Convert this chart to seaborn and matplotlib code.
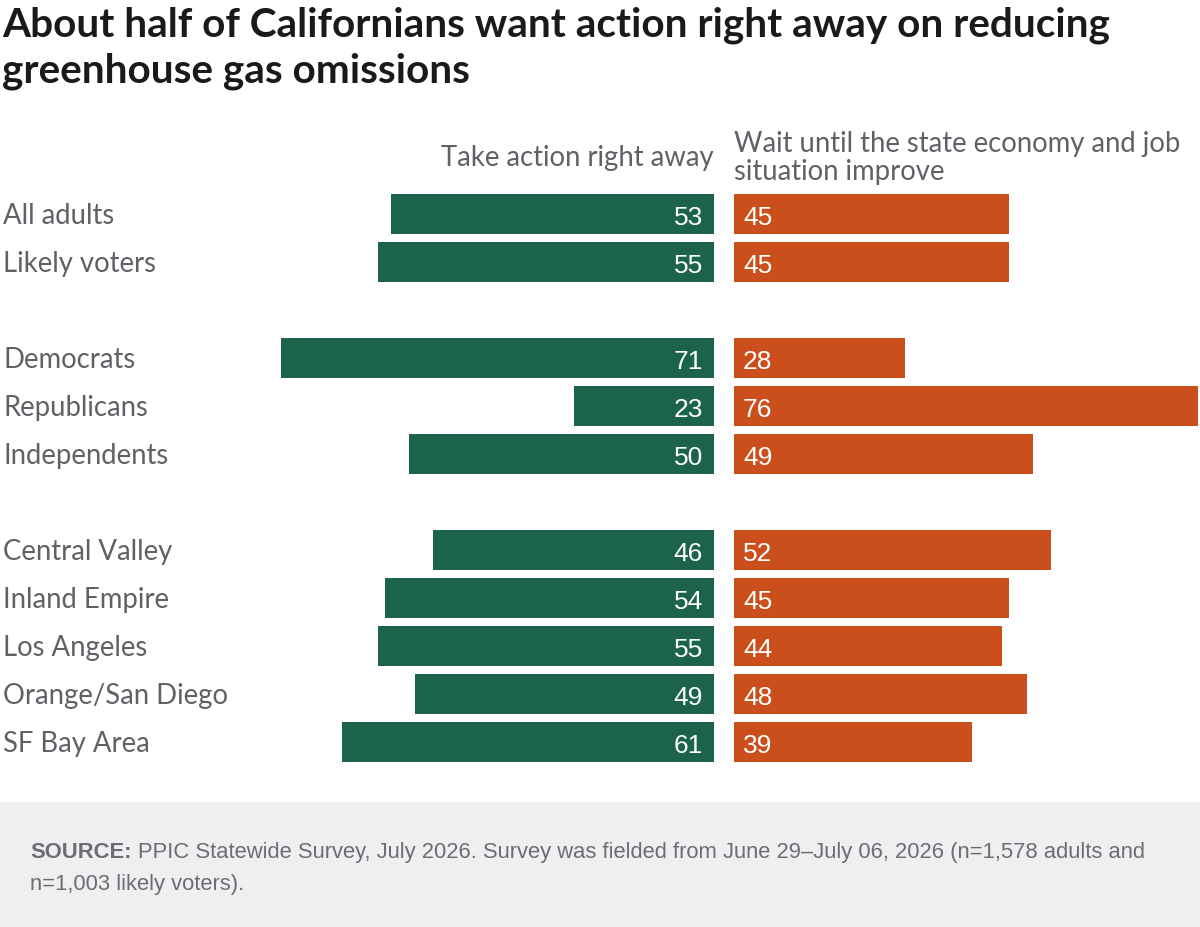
import numpy as np
import pandas as pd
import matplotlib
matplotlib.use("Agg")
import matplotlib.pyplot as plt
from matplotlib.patches import Rectangle
import seaborn as sns

groups = ["All adults", "Likely voters", "Democrats", "Republicans", "Independents",
          "Central Valley", "Inland Empire", "Los Angeles", "Orange/San Diego", "SF Bay Area"]
action = [53, 55, 71, 23, 50, 46, 54, 55, 49, 61]
wait = [45, 45, 28, 76, 49, 52, 45, 44, 48, 39]
slot = [0, 1, 3, 4, 5, 7, 8, 9, 10, 11]   # row slots, blank slots separate the groups

title_lines = ["About half of Californians want action right away on reducing",
               "greenhouse gas omissions"]
src_lines = ["PPIC Statewide Survey, July 2026. Survey was fielded from June 29\u2013July 06, 2026 (n=1,578 adults and",
             "n=1,003 likely voters)."]

GREEN = "#1b634a"
ORANGE = "#cb4f1c"
GREY = "#5f6166"

sns.set_theme(style="white")
plt.rcParams["font.family"] = ["Lato", "DejaVu Sans"]
num_font = ["Liberation Sans", "DejaVu Sans"]

W, H = 1200, 928
fig = plt.figure(figsize=(W / 100, H / 100), dpi=100)
rend = fig.canvas.get_renderer()

def px(x, y):
    return x / W, 1 - y / H

ppu = 6.1  # pixels per percentage point
top, bot = 191, 767
lw = 80 * ppu
axL = fig.add_axes([(714 - lw) / W, (H - bot) / H, lw / W, (bot - top) / H])
rw = W - 734
axR = fig.add_axes([734 / W, (H - bot) / H, rw / W, (bot - top) / H])

df = pd.DataFrame({"group": groups, "action": action, "wait": wait, "slot": slot})

sns.barplot(data=df, x="action", y="slot", orient="y", native_scale=True, width=40 / 48,
            color=GREEN, saturation=1, linewidth=0, ax=axL)
sns.barplot(data=df, x="wait", y="slot", orient="y", native_scale=True, width=40 / 48,
            color=ORANGE, saturation=1, linewidth=0, ax=axR)

axL.set_xlim(80, 0)
axR.set_xlim(0, rw / ppu)
for ax in (axL, axR):
    ax.set_ylim(11.5, -0.5)
    ax.axis("off")

for s, a, w in zip(slot, action, wait):
    axL.annotate(str(a), (0, s), xytext=(-11, -10), textcoords="offset pixels",
                 ha="right", va="baseline", color="white", fontsize=19, family=num_font)
    axR.annotate(str(w), (0, s), xytext=(9, -10), textcoords="offset pixels",
                 ha="left", va="baseline", color="white", fontsize=19, family=num_font)

# row labels
for s, g in zip(slot, groups):
    axL.annotate(g, (0, s), xycoords=("figure pixels", "data"), xytext=(3, -9),
                 textcoords="offset pixels", ha="left", va="baseline",
                 fontsize=19.8, color=GREY)

# column headers
fig.text(*px(714, 166), "Take action right away", ha="right", va="baseline",
         fontsize=19.8, color=GREY)
fig.text(*px(734, 152), "Wait until the state economy and job", ha="left",
         va="baseline", fontsize=19.8, color=GREY)
fig.text(*px(734, 180), "situation improve", ha="left", va="baseline",
         fontsize=19.8, color=GREY)

# title, sized so the first line spans the same width as the reference
t1 = fig.text(*px(2, 36), title_lines[0], ha="left", va="baseline",
              fontsize=25, fontweight="bold", color="#1a1a1a")
tw = t1.get_window_extent(rend).width
tsize = 25 * 1106 / tw
t1.set_fontsize(tsize)
fig.text(*px(2, 82), title_lines[1], ha="left", va="baseline",
         fontsize=tsize, fontweight="bold", color="#1a1a1a")

# footer band
fig.patches.append(Rectangle((0, 0), 1, (H - 803) / H, transform=fig.transFigure,
                             facecolor="#eeeff1", edgecolor="none", zorder=0))
s0 = fig.text(*px(30, 858), "SOURCE:", ha="left", va="baseline", fontsize=15.8,
              fontweight="bold", color="#6b6d71", family=num_font)
sw = s0.get_window_extent(rend).width
fig.text(*px(30 + sw + 6, 858), src_lines[0], ha="left", va="baseline", fontsize=15.8,
         color="#6b6d71", family=num_font)
fig.text(*px(30, 890), src_lines[1], ha="left", va="baseline", fontsize=15.8,
         color="#6b6d71", family=num_font)

fig.savefig("out.png", dpi=100)
